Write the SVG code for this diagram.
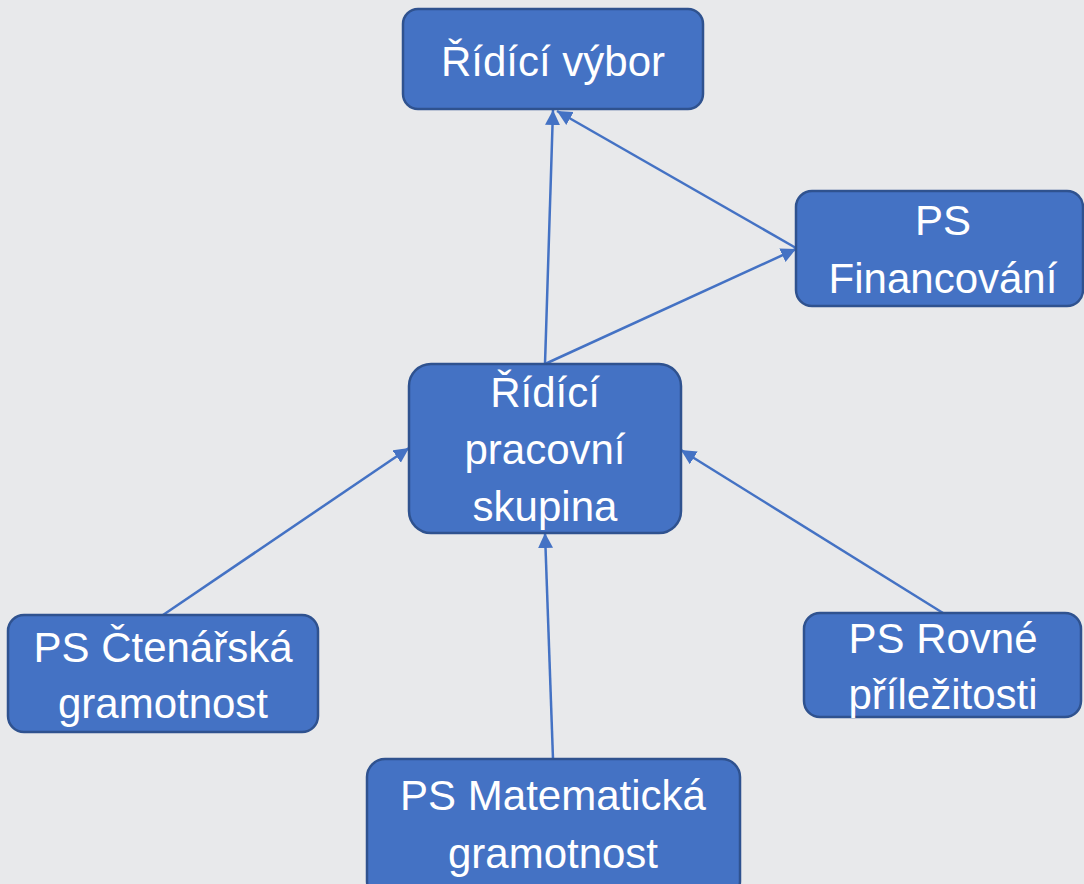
<svg xmlns="http://www.w3.org/2000/svg" width="1084" height="884" viewBox="0 0 1084 884">
<style>
.box{fill:#4472C4;stroke:#2F528F;stroke-width:2.5}
.t{font-family:"Liberation Sans","DejaVu Sans",sans-serif;font-size:42px;fill:#FFFFFF;text-anchor:middle}
.c{stroke:#4472C4;stroke-width:2.5;fill:none;marker-end:url(#ah)}
</style>
<defs>
<marker id="ah" markerUnits="userSpaceOnUse" markerWidth="16" markerHeight="16" refX="15" refY="7.5" orient="auto">
<path d="M0,0 L15,7.5 L0,15 Z" fill="#4472C4"/>
</marker>
</defs>
<rect width="1084" height="884" fill="#E8E9EB"/>
<g id="connectors">
<line class="c" x1="545" y1="364" x2="553" y2="110"/>
<line class="c" x1="796" y1="248" x2="557" y2="111"/>
<line class="c" x1="545" y1="364" x2="796" y2="249"/>
<line class="c" x1="163" y1="615" x2="409" y2="448"/>
<line class="c" x1="553" y1="759" x2="545" y2="533"/>
<line class="c" x1="943" y1="613" x2="681" y2="450"/>
</g>
<g id="ridici-vybor">
<rect class="box" x="403" y="9" width="300" height="100" rx="15"/>
<text class="t" x="553" y="76">Řídící výbor</text>
</g>
<g id="ps-financovani">
<rect class="box" x="796" y="191" width="287" height="115" rx="16"/>
<text class="t" x="943" y="235">PS</text>
<text class="t" x="943" y="293">Financování</text>
</g>
<g id="ridici-pracovni-skupina">
<rect class="box" x="409" y="364" width="272" height="169" rx="22"/>
<text class="t" x="545" y="407">Řídící</text>
<text class="t" x="545" y="464">pracovní</text>
<text class="t" x="545" y="521">skupina</text>
</g>
<g id="ps-ctenarska">
<rect class="box" x="8" y="615" width="310" height="117" rx="16"/>
<text class="t" x="163" y="662">PS Čtenářská</text>
<text class="t" x="163" y="718">gramotnost</text>
</g>
<g id="ps-rovne">
<rect class="box" x="804" y="613" width="277" height="104" rx="16"/>
<text class="t" x="943" y="653">PS Rovné</text>
<text class="t" x="943" y="709">příležitosti</text>
</g>
<g id="ps-matematicka">
<rect class="box" x="367" y="759" width="373" height="140" rx="18"/>
<text class="t" x="553" y="810">PS Matematická</text>
<text class="t" x="553" y="868">gramotnost</text>
</g>
</svg>
